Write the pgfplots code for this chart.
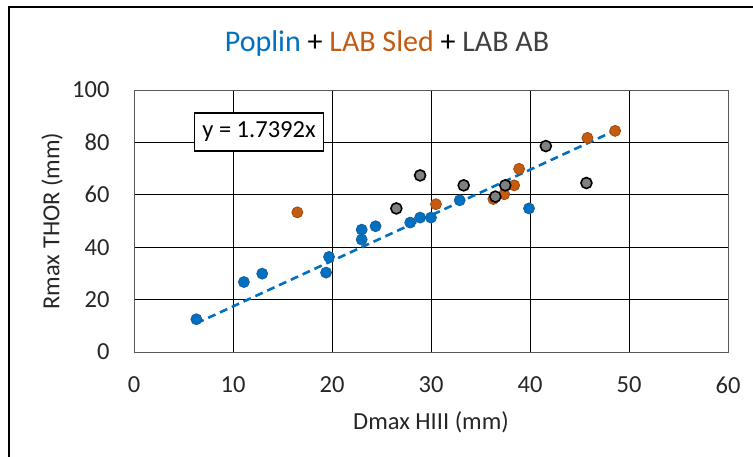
\documentclass[border=0pt]{standalone}
\usepackage{fontspec}
\setmainfont{Carlito}
\usepackage{pgfplots}
\pgfplotsset{compat=1.18}
\definecolor{pblue}{HTML}{0070C0}
\definecolor{pblueedge}{HTML}{1F5F9F}
\definecolor{porange}{HTML}{C55A11}
\definecolor{porangeedge}{HTML}{A04A10}
\definecolor{pgray}{HTML}{808080}
\definecolor{ptext}{HTML}{404040}
\definecolor{pframe}{HTML}{595959}
\begin{document}
\begin{tikzpicture}[x=1pt,y=1pt]
\path[use as bounding box] (0,0) rectangle (753,457);
\draw[line width=2pt] (9,0) -- (9,450) -- (753,450);
\node[anchor=base, font=\fontsize{30}{36}\selectfont] at (387,405) {\textcolor{pblue}{Poplin} + \textcolor{porange}{LAB Sled} + \textcolor{ptext}{LAB AB}};
\begin{axis}[
  at={(134pt,105pt)}, anchor=south west,
  scale only axis, width=594pt, height=262pt,
  xmin=0, xmax=60, ymin=0, ymax=100,
  xtick={0,10,...,60}, ytick={0,20,...,100},
  grid=major, major grid style={black, line width=0.9pt},
  axis line style={pframe, line width=0.9pt},
  tick style={draw=none},
  /pgf/number format/assume math mode=true,
  ticklabel style={font=\fontsize{24.5}{28}\selectfont, text=black!85},
  xticklabel style={yshift=-21pt},
  yticklabel style={xshift=-21pt},
  xlabel={Dmax HIII (mm)}, ylabel={Rmax THOR (mm)},
  label style={font=\fontsize{24.5}{28}\selectfont, text=black!85},
  xlabel style={at={(axis description cs:0.5,0)}, anchor=base, yshift=-78pt},
  ylabel style={at={(axis description cs:0,0.5)}, anchor=center, yshift=82pt},
  clip=false,
]
% trendline y = 1.7392x
\addplot[pblue, line width=2.6pt, dash pattern=on 8pt off 5pt] coordinates {(6.3,10.96) (48.6,84.53)};
% Poplin
\addplot[only marks, mark=*, mark size=5.5pt, mark options={fill=pblue, draw=pblueedge, line width=0.8pt}] coordinates {
(6.3,12.5) (11.1,26.7) (12.95,29.9) (19.4,30.3) (19.7,36.3) (23.0,42.9) (23.0,46.7) (24.4,48.0)
(27.9,49.4) (28.9,51.3) (30.0,51.3) (32.9,57.9) (39.9,54.8)};
% LAB Sled
\addplot[only marks, mark=*, mark size=5.5pt, mark options={fill=porange, draw=porangeedge, line width=0.8pt}] coordinates {
(16.5,53.3) (30.5,56.4) (36.3,58.4) (37.4,60.2) (38.4,63.6) (38.9,69.9) (45.8,81.7) (48.6,84.4)};
% LAB AB
\addplot[only marks, mark=*, mark size=5.5pt, mark options={fill=pgray, draw=black, line width=1.6pt}] coordinates {
(26.5,54.8) (28.9,67.4) (33.3,63.6) (36.5,59.3) (37.5,63.6) (41.6,78.6) (45.7,64.5)};
\end{axis}
\node[draw=black, line width=1.6pt, fill=white, font=\fontsize{24.5}{28}\selectfont, inner sep=3pt, minimum height=38pt, minimum width=129pt] at (259,325) {y = 1.7392x};
\end{tikzpicture}
\end{document}
